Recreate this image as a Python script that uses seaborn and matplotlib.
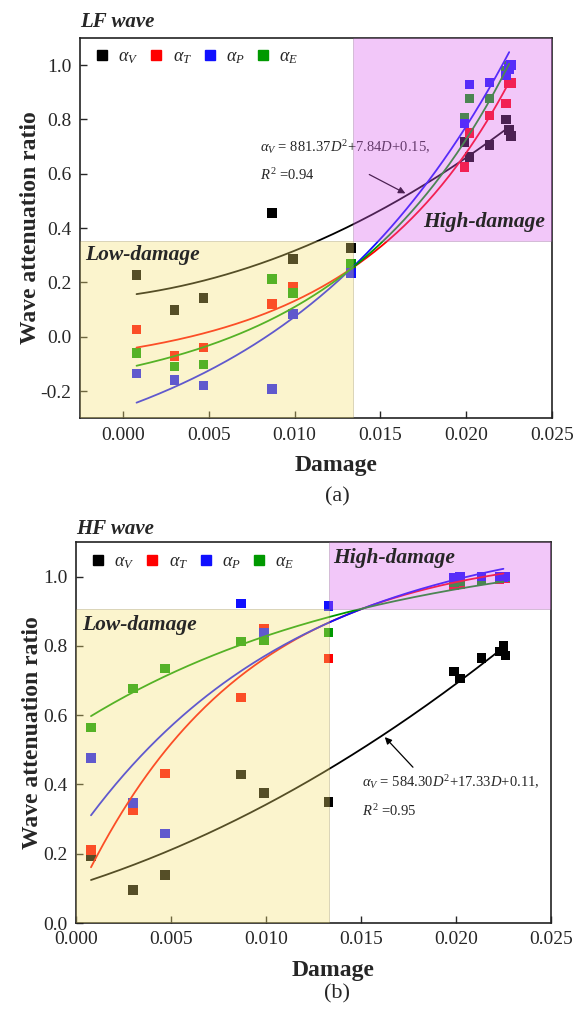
import numpy as np
import pandas as pd
import matplotlib
matplotlib.use("Agg")
import matplotlib.pyplot as plt
from matplotlib.patches import Rectangle
from matplotlib.lines import Line2D
import seaborn as sns

# ---------------------------------------------------------------- data
# damage level of each specimen (low-damage group, high-damage group)
damage_low = [0.0008, 0.0030, 0.0047, 0.0087, 0.0099, 0.0133]
damage_high = [0.0199, 0.0202, 0.02135, 0.0223, 0.0225, 0.0226]

# LF wave attenuation ratios
lf_V = [0.228, 0.099, 0.143, 0.456, 0.286, 0.327, 0.716, 0.662, 0.705, 0.800, 0.760, 0.740]
lf_T = [0.026, -0.070, -0.040, 0.121, 0.184, 0.255, 0.624, 0.749, 0.815, 0.859, 0.932, 0.935]
lf_P = [-0.136, -0.160, -0.180, -0.192, 0.084, 0.235, 0.785, 0.928, 0.936, 0.962, 0.985, 1.000]
lf_E = [-0.059, -0.110, -0.103, 0.213, 0.161, 0.270, 0.807, 0.877, 0.877, 0.980, 0.998, 1.000]

# HF wave attenuation ratios
hf_V = [0.193, 0.095, 0.138, 0.429, 0.375, 0.349, 0.726, 0.706, 0.766, 0.784, 0.800, 0.772]
hf_T = [0.210, 0.326, 0.432, 0.651, 0.850, 0.764, 0.975, 0.978, 0.990, 0.993, 0.995, 0.995]
hf_P = [0.476, 0.346, 0.259, 0.922, 0.839, 0.916, 0.998, 1.000, 1.000, 1.000, 0.998, 1.000]
hf_E = [0.565, 0.677, 0.735, 0.813, 0.816, 0.839, 0.985, 0.988, 0.990, 0.995, 0.998, 0.998]

# fitted trend curves
# LF: alpha_V quadratic (a, b, c); others a*exp(k*D) + c  -> (a, k, c)
lf_fit_V = [881.37, 7.84, 0.15]
lf_fit_T = [0.0884, 111.0, -0.1366]
lf_fit_P = [0.3055, 74.0, -0.567]
lf_fit_E = [0.1323, 100.0, -0.2503]
# HF: alpha_V quadratic (a, b, c); others a - b*exp(-k*D) -> (a, b, k)
hf_fit_V = [584.30, 17.33, 0.11]
hf_fit_T = [1.0836, 1.0123, 116.0]
hf_fit_P = [1.1496, 0.899, 87.0]
hf_fit_E = [1.111, 0.541, 65.0]
fit_range = [0.0008, 0.0225]

# damage zones: (D boundary, ratio boundary)
lf_zone = [0.0134, 0.352]
hf_zone = [0.0133, 0.908]

series = ["V", "T", "P", "E"]
labels = [r"$\alpha_V$", r"$\alpha_T$", r"$\alpha_P$", r"$\alpha_E$"]
colors = {"V": "#000000", "T": "#FF0000", "P": "#1010FF", "E": "#009900"}
draw_order = ["V", "T", "E", "P"]

# ---------------------------------------------------------------- style
sns.set_style("ticks")
plt.rcParams["font.family"] = ["Liberation Serif", "DejaVu Serif"]
plt.rcParams["mathtext.fontset"] = "custom"
plt.rcParams["mathtext.rm"] = "Liberation Serif"
plt.rcParams["mathtext.it"] = "Liberation Serif:italic"
plt.rcParams["mathtext.bf"] = "Liberation Serif:bold"
plt.rcParams["axes.unicode_minus"] = False

fig = plt.figure(figsize=(5.83, 10.15), dpi=100)
ax1 = fig.add_axes([0.137, 0.588, 0.810, 0.3746])
ax2 = fig.add_axes([0.130, 0.0906, 0.815, 0.3754])


def quad(D, p):
    return p[0] * D ** 2 + p[1] * D + p[2]


def grow(D, p):
    return p[0] * np.exp(p[1] * D) + p[2]


def sat(D, p):
    return p[0] - p[1] * np.exp(-p[2] * D)


def long_frame(vals):
    D = damage_low + damage_high
    rows = []
    for s in draw_order:
        for d, v in zip(D, vals[s]):
            rows.append({"D": d, "ratio": v, "series": s})
    return pd.DataFrame(rows)


def curve_frame(fits, models):
    Dc = np.linspace(fit_range[0], fit_range[1], 200)
    parts = []
    for s in series:
        parts.append(pd.DataFrame({"D": Dc, "ratio": models[s](Dc, fits[s]), "series": s}))
    return pd.concat(parts, ignore_index=True)


def draw_panel(ax, vals, fits, models, zone, xlim, ylim, yticks):
    pts = long_frame(vals)
    sns.scatterplot(data=pts, x="D", y="ratio", hue="series", palette=colors,
                    marker="s", s=48, linewidth=0, legend=False, ax=ax, zorder=2)
    cur = curve_frame(fits, models)
    sns.lineplot(data=cur, x="D", y="ratio", hue="series", hue_order=series,
                 palette=colors, linewidth=1.3, legend=False, ax=ax, zorder=2,
                 sort=False, estimator=None)
    ax.set_xlim(*xlim)
    ax.set_ylim(*ylim)
    # translucent damage-zone overlays
    ax.add_patch(Rectangle((xlim[0], ylim[0]), zone[0] - xlim[0], zone[1] - ylim[0],
                           facecolor="#F6E270", edgecolor="#8A8050", linewidth=0.6,
                           alpha=0.35, zorder=4))
    ax.add_patch(Rectangle((zone[0], zone[1]), xlim[1] - zone[0], ylim[1] - zone[1],
                           facecolor="#DC61F0", edgecolor="#806080", linewidth=0.6,
                           alpha=0.35, zorder=4))
    ax.set_xticks(np.arange(0.0, 0.0251, 0.005))
    ax.set_xticklabels([f"{v:.3f}" for v in np.arange(0.0, 0.0251, 0.005)])
    ax.set_yticks(yticks)
    ax.set_yticklabels([f"{v:.1f}" for v in yticks])
    ax.tick_params(direction="in", length=5, width=1.0, labelsize=14,
                   top=False, right=False, pad=6)
    for sp in ax.spines.values():
        sp.set_visible(True)
        sp.set_linewidth(1.2)
        sp.set_color("#222222")
    ax.set_xlabel("Damage", fontsize=17, fontweight="bold")
    ax.xaxis.set_label_coords(0.542, -0.096)
    ax.set_ylabel("Wave attenuation ratio", fontsize=17, fontweight="bold", labelpad=0)
    handles = [Line2D([], [], marker="s", linestyle="", color=colors[s], markersize=7)
               for s in series]
    ax.legend(handles, labels, loc="upper left", ncol=4, frameon=False,
              fontsize=13, handlelength=0.6, handletextpad=0.6, columnspacing=0.7,
              borderaxespad=0.2, bbox_to_anchor=(0.012, 1.0))


lf_vals = {"V": lf_V, "T": lf_T, "P": lf_P, "E": lf_E}
lf_fits = {"V": lf_fit_V, "T": lf_fit_T, "P": lf_fit_P, "E": lf_fit_E}
lf_models = {"V": quad, "T": grow, "P": grow, "E": grow}
draw_panel(ax1, lf_vals, lf_fits, lf_models, lf_zone,
           (-0.0025, 0.025), (-0.3, 1.1), np.round(np.arange(-0.2, 1.01, 0.2), 1))

hf_vals = {"V": hf_V, "T": hf_T, "P": hf_P, "E": hf_E}
hf_fits = {"V": hf_fit_V, "T": hf_fit_T, "P": hf_fit_P, "E": hf_fit_E}
hf_models = {"V": quad, "T": sat, "P": sat, "E": sat}
draw_panel(ax2, hf_vals, hf_fits, hf_models, hf_zone,
           (0.0, 0.025), (0.0, 1.1), np.round(np.arange(0.0, 1.01, 0.2), 1))

# zone labels
zone_font = dict(fontsize=15.5, fontweight="bold", fontstyle="italic", zorder=6)
ax1.text(-0.00218, 0.30, "Low-damage", ha="left", va="center", **zone_font)
ax1.text(0.01749, 0.422, "High-damage", ha="left", va="center", **zone_font)
ax2.text(0.00032, 0.859, "Low-damage", ha="left", va="center", **zone_font)
ax2.text(0.01353, 1.055, "High-damage", ha="left", va="center", **zone_font)

# fitted equation of alpha_V
eq_font = dict(fontsize=10.5, zorder=3)
ax1.text(0.0080, 0.697, r"$\alpha_V$ = 881.37$D^2$+7.84$D$+0.15,", ha="left", va="center", **eq_font)
ax1.text(0.0080, 0.594, r"$R^2$ =0.94", ha="left", va="center", **eq_font)
ax1.annotate("", xy=(0.0166, quad(0.0166, lf_fit_V)), xytext=(0.01421, 0.602),
             arrowprops=dict(arrowstyle="-|>", color="k", lw=0.9, mutation_scale=10),
             zorder=3)
ax2.text(0.01505, 0.406, r"$\alpha_V$ = 584.30$D^2$+17.33$D$+0.11,", ha="left", va="center", **eq_font)
ax2.text(0.01505, 0.323, r"$R^2$ =0.95", ha="left", va="center", **eq_font)
ax2.annotate("", xy=(0.01616, quad(0.01616, hf_fit_V)), xytext=(0.01784, 0.444),
             arrowprops=dict(arrowstyle="-|>", color="k", lw=0.9, mutation_scale=10),
             zorder=3)

# panel titles and captions
fig.text(80 / 583, 1 - 22 / 1015, "LF wave", fontsize=15, fontweight="bold",
         fontstyle="italic", ha="left", va="center")
fig.text(76 / 583, 1 - 529 / 1015, "HF wave", fontsize=15, fontweight="bold",
         fontstyle="italic", ha="left", va="center")
fig.text(337 / 583, 1 - 497 / 1015, "(a)", fontsize=16, ha="center", va="center")
fig.text(337 / 583, 1 - 994 / 1015, "(b)", fontsize=16, ha="center", va="center")

fig.savefig("out.png", dpi=100)
